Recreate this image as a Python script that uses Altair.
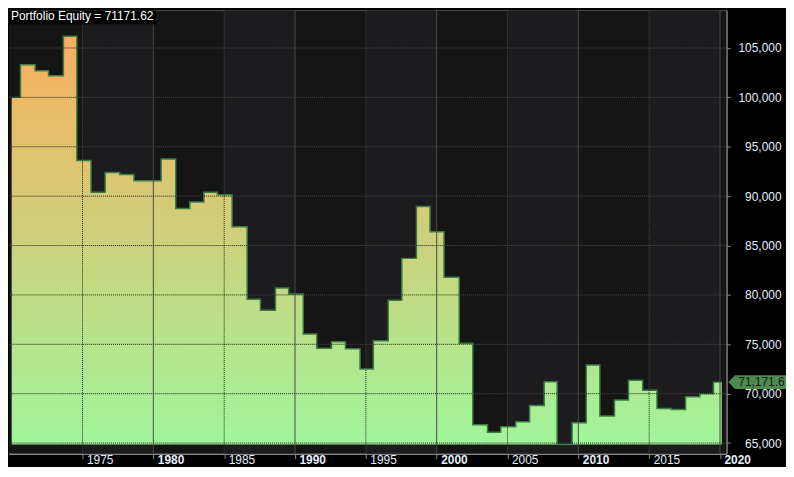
import altair as alt
import pandas as pd

# ---- data ----
step_start = [1970.00, 1970.62, 1971.65, 1972.60, 1973.65, 1974.60, 1975.60, 1976.60, 1977.63, 1978.63,
              1979.60, 1980.55, 1981.58, 1982.57, 1983.57, 1984.52, 1985.56, 1986.62, 1987.56, 1988.62,
              1989.55, 1990.58, 1991.54, 1992.57, 1993.56, 1994.59, 1995.53, 1996.58, 1997.54, 1998.57,
              1999.53, 2000.52, 2001.59, 2002.55, 2003.59, 2004.52, 2005.58, 2006.56, 2007.59, 2008.50,
              2009.56, 2010.56, 2011.52, 2012.55, 2013.54, 2014.54, 2015.55, 2016.56, 2017.57, 2018.58,
              2019.54, 2020.12]
equity = [100000, 103300, 102700, 102200, 106200, 93600, 90400, 92400, 92200, 91550,
          91550, 93750, 88750, 89400, 90400, 90150, 86900, 79550, 78450, 80700,
          80100, 76050, 74600, 75250, 74550, 72500, 75350, 79450, 83700, 88950,
          86400, 81800, 75100, 66850, 66100, 66650, 67150, 68800, 71200, 64850,
          67050, 72900, 67750, 69350, 71350, 70350, 68500, 68400, 69700, 70000,
          71171.62, 71171.62]
final_equity = 71171.62
title_text = "Portfolio Equity = 71171.62"
tag_text = "71,171.6"

grid_levels = [65000, 70000, 75000, 80000, 85000, 90000, 95000, 100000, 105000]
tick_years = [1975, 1980, 1985, 1990, 1995, 2000, 2005, 2010, 2015, 2020]
decade_years = [1980, 1990, 2000, 2010, 2020]
half_years = [1975, 1985, 1995, 2005, 2015]
band_start = [1975, 1985, 1995, 2005, 2015]

W, H = 722, 446
XDOM = [1969.81, 2020.45]
YDOM = [63934, 108800]
FONT = "Liberation Sans"
LABEL = "#e6eeff"

xs = alt.Scale(domain=XDOM, nice=False, zero=False)
ys = alt.Scale(domain=YDOM, nice=False, zero=False)

baseline = min(equity)
df = pd.DataFrame({"year": step_start, "equity": equity})
df["base"] = baseline


def value_at(t):
    v = equity[0]
    for s, e in zip(step_start, equity):
        if s <= t:
            v = e
    return v


# dark overlay grid segments (where the fill covers the grid)
hseg = []
for lvl in grid_levels:
    start = None
    for i in range(len(step_start) - 1):
        if equity[i] >= lvl:
            if start is None:
                start = step_start[i]
            end = step_start[i + 1]
        else:
            if start is not None:
                hseg.append({"year": start, "x2": end, "equity": lvl})
                start = None
    if start is not None:
        hseg.append({"year": start, "x2": end, "equity": lvl})
hseg_df = pd.DataFrame(hseg)
vseg_df = pd.DataFrame({"year": half_years, "equity": [baseline] * len(half_years),
                        "y2": [value_at(t) for t in half_years]})

bands_df = pd.DataFrame({"year": band_start, "e": [b + 5 for b in band_start]})
levels_df = pd.DataFrame({"equity": grid_levels})
half_df = pd.DataFrame({"year": half_years})
dec_df = pd.DataFrame({"year": decade_years})
one_df = pd.DataFrame({"k": [0]})

x_axis = alt.Axis(values=tick_years, format="d", labelAlign="left", labelOffset=4, labelPadding=-4,
                  labelBaseline="top", tickSize=5, tickColor="#8a8a8a", domainColor="#8a8a8a",
                  labelColor=LABEL, labelFontSize=12, labelFont=FONT,
                  labelFontWeight={"condition": {"test": "datum.value % 10 === 0", "value": "bold"},
                                   "value": "normal"},
                  grid=False, title=None, labelOverlap=False, labelFlush=False)
y_axis = alt.Axis(orient="right", values=grid_levels, format=",d", labelAlign="right", labelPadding=51,
                  labelBaseline="middle", tickSize=4, tickColor="#8a8a8a", domainColor="#8a8a8a",
                  labelColor=LABEL, labelFontSize=12, labelFont=FONT, grid=False, title=None,
                  labelOverlap=False)


def X(field):
    return alt.X(field, scale=xs, axis=x_axis, title=None)


def Y(field):
    return alt.Y(field, scale=ys, axis=y_axis, title=None)


plot_bg = alt.Chart(one_df).mark_rect(color="#151515").encode(
    x=alt.value(0), x2=alt.value(W), y=alt.value(0), y2=alt.value(H))

bands = alt.Chart(bands_df).mark_rect(color="#1c1c1f").encode(x=X("year:Q"), x2="e:Q")

gray_h = alt.Chart(levels_df).mark_rule(color="#484848", strokeDash=[1, 1], strokeWidth=1).encode(
    y=Y("equity:Q"))
gray_v = alt.Chart(half_df).mark_rule(color="#484848", strokeDash=[1, 1], strokeWidth=1).encode(
    x=X("year:Q"))

area = alt.Chart(df).mark_area(
    interpolate="step-after",
    color=alt.Gradient(gradient="linear",
                       stops=[alt.GradientStop(color="#f9ae5e", offset=0),
                              alt.GradientStop(color="#a0f59a", offset=1)],
                       x1=1, x2=1, y1=0, y2=1)
).encode(x=X("year:Q"), y=Y("equity:Q"), y2="base:Q")

line = alt.Chart(df).mark_line(interpolate="step-after", color="#3c7a44", strokeWidth=1.5).encode(
    x=X("year:Q"), y=Y("equity:Q"))

dark_h = alt.Chart(hseg_df).mark_rule(color="#000000", strokeDash=[1, 1], strokeWidth=1, opacity=0.85).encode(
    x=X("year:Q"), x2="x2:Q", y=Y("equity:Q"))
dark_v = alt.Chart(vseg_df).mark_rule(color="#000000", strokeDash=[1, 1], strokeWidth=1, opacity=0.85).encode(
    x=X("year:Q"), y=Y("equity:Q"), y2="y2:Q")

dec = alt.Chart(dec_df).mark_rule(color="#4a4a4a", strokeWidth=1).encode(x=X("year:Q"))

title_df = pd.DataFrame({"t": [title_text]})
title_bg = alt.Chart(title_df).mark_rect(color="#000000").encode(
    x=alt.value(0), x2=alt.value(148), y=alt.value(0), y2=alt.value(14))
title = alt.Chart(title_df).mark_text(align="left", baseline="top", fontSize=12, font=FONT,
                                      color="#ffffff").encode(
    x=alt.value(2), y=alt.value(1), text="t:N")

tag_df = pd.DataFrame({"equity": [final_equity], "t": [tag_text]})
tag_shape = "M-1,0 L-0.77,-0.24 L1,-0.24 L1,0.24 L-0.77,0.24 Z"
tag = alt.Chart(tag_df).mark_point(shape=tag_shape, size=3364, filled=True, color="#4e8a4e",
                                   opacity=1, strokeWidth=0).encode(
    x=alt.value(W + 2 + 29), y=Y("equity:Q"))
tag_label = alt.Chart(tag_df).mark_text(align="left", baseline="middle", fontSize=12, font=FONT,
                                        color="#0f1f0f").encode(
    x=alt.value(W + 12), y=Y("equity:Q"), text="t:N")

chart = alt.layer(
    plot_bg, bands, gray_h, gray_v, area, line, dark_h, dark_v, dec, title_bg, title, tag, tag_label
).properties(
    width=W, height=H,
    padding=0,
    background="#000000",
).configure_view(strokeWidth=0).configure(font=FONT)

chart.save("out.html", embed_options={"renderer": "svg", "actions": False})
